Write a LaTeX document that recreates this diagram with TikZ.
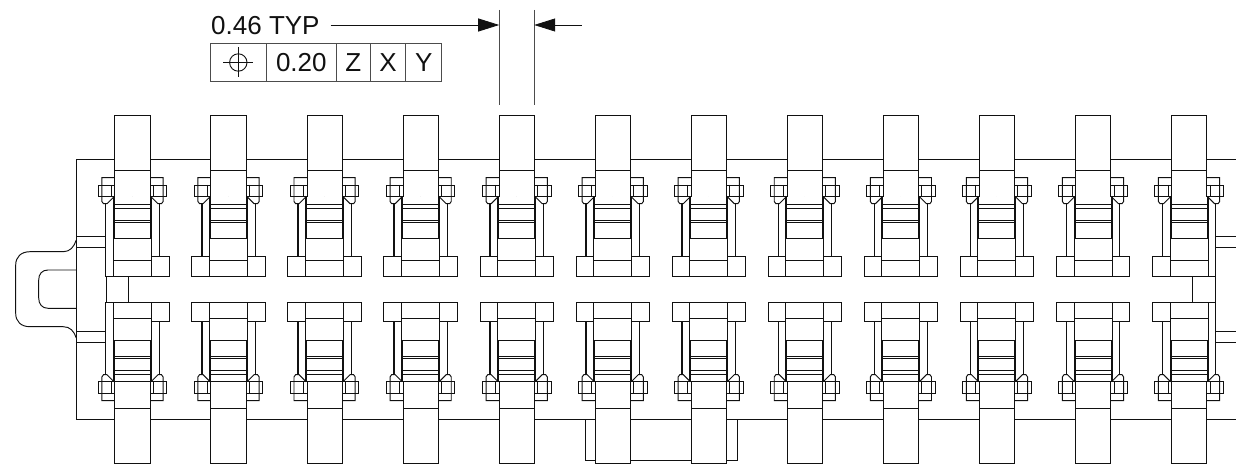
\documentclass[tikz,border=0pt]{standalone}
\usepackage{fontspec}
\setmainfont{Liberation Sans}
\usetikzlibrary{arrows.meta}
\definecolor{ink}{HTML}{111111}
\tikzset{
  part/.style={draw=ink,line width=0.95pt,line join=miter},
  thin part/.style={draw=ink!75,line width=1pt},
  dimtext/.style={font=\fontsize{26}{30}\selectfont,text=ink,inner sep=0pt},
  dimarrow/.style={draw=ink,line width=0.8pt,-{Triangle[length=21pt,width=13pt]}}
}
% one quarter of a contact, x measured from the contact centre, y from the top of the picture
\newcommand\quartercontact[1]{%
  \draw[part] (0,196.7)--(19,196.7)--(19,276)--(0,276);
  \draw[part] (0,260)--(19,260);
  \draw[part] (18,196.7)--(18,238.3)--(0,238.3);
  \draw[part] (0,204.3)--(18,204.3) (0,208.3)--(18,208.3) (0,220)--(18,220) (0,222.3)--(18,222.3);
  \ifnum#1=1
    \draw[part] (26.7,203.7)--(26.7,276)--(19,276);
  \else
    \draw[part,line width=1.3pt] (26.7,203.7)--(26.7,256.7);
    \draw[part] (19,256.7) rectangle (36.7,276);
  \fi
  \draw[part] (18.5,196.7)--(25.5,203.7)--(29,203.7)--(30.6,201.5)--(30.6,177.7)--(17.6,177.7);
  \draw[part] (17.6,185)--(34.3,185)--(34.3,196.7)--(17.6,196.7);
  \draw[part] (21,185)--(21,196.7);
  \fill[white] (0,115.3) rectangle (17.6,196.7);
  \draw[part] (0,115.3)--(17.6,115.3)--(17.6,196.7);
  \draw[part] (0,170)--(17.6,170);
}
\begin{document}
\begin{tikzpicture}[x=1pt,y=-1pt]
\useasboundingbox (0,0) rectangle (1236,465);
\fill[white] (0,0) rectangle (1236,465);
% housing
\draw[part] (1236,159.7)--(76.3,159.7)--(76.3,419)--(1236,419);
% tabs on the ends
\draw[part] (76.3,236.3)--(106,236.3) (76.3,247)--(106,247) (76.3,331.4)--(106,331.4) (76.3,342)--(106,342);
\draw[part] (1215.7,236.3)--(1236,236.3) (1215.7,247)--(1236,247) (1215.7,331.4)--(1236,331.4) (1215.7,342)--(1236,342);
% end loop
\draw[part] (76.3,240) .. controls (74,247) and (70,251.7) .. (63.3,251.7) -- (30,251.7)
  .. controls (21,251.7) and (15.7,257) .. (15.7,265) -- (15.7,313.4)
  .. controls (15.7,321.5) and (21,326.7) .. (30,326.7) -- (63.3,326.7)
  .. controls (70,326.7) and (74,331) .. (76.3,338);
\draw[part] (76.3,270)--(48,270) .. controls (42,270) and (38.7,274) .. (38.7,280) -- (38.7,298)
  .. controls (38.7,304) and (42,308.3) .. (48,308.3) -- (76.3,308.3);
% bottom bracket
\draw[part] (585,419)--(585,460.7)--(737,460.7)--(737,419);
% contacts
\foreach \i in {1,...,12}{
  \pgfmathsetmacro\cx{132.5+(\i-1)*96.05}
  \foreach \s in {-1,1}{
    \pgfmathtruncatemacro\isend{((\i==1)&&(\s==-1))||((\i==12)&&(\s==1))?1:0}
    \begin{scope}[shift={(\cx,0)},xscale=\s]
      \quartercontact{\isend}
    \end{scope}
    \begin{scope}[shift={(\cx,578.4)},xscale=\s,yscale=-1]
      \quartercontact{\isend}
    \end{scope}
  }
}
% end pieces between the two rows
\draw[part] (106,276)--(106,302.4) (128.3,276)--(128.3,302.4);
\draw[part] (1215.7,276)--(1215.7,302.4) (1192.7,276)--(1192.7,302.4);
% dimension
\coordinate (extLtop) at (499.2,10);
\coordinate (extLbot) at (499.2,105);
\coordinate (extRtop) at (534.2,10);
\coordinate (extRbot) at (534.2,105);
\coordinate (tipL) at (499.2,25);
\coordinate (tipR) at (534.2,25);
\coordinate (tailL) at (330.7,25);
\coordinate (tailR) at (581.5,25);
\draw[thin part] (extLtop)--(extLbot);
\draw[thin part] (extRtop)--(extRbot);
\draw[dimarrow] (tailL)--(tipL);
\draw[dimarrow] (tailR)--(tipR);
\node[dimtext,anchor=base west] (typ) at (211,35) {0.46 TYP};
% feature control frame
\draw[thin part] (210.7,43.3) rectangle (441.7,81.7);
\draw[thin part] (266.7,43.3)--(266.7,81.7) (336,43.3)--(336,81.7) (370.3,43.3)--(370.3,81.7) (405.7,43.3)--(405.7,81.7);
\draw[draw=ink,line width=0.9pt] (238.3,62.5) circle (8.7);
\draw[draw=ink,line width=0.9pt] (223.3,62.5)--(253.3,62.5) (238.3,47.5)--(238.3,77.5);
\node[dimtext,anchor=base] (tol) at (301.3,71.7) {0.20};
\node[dimtext,anchor=base] (dz) at (353.2,71.7) {Z};
\node[dimtext,anchor=base] (dx) at (388,71.7) {X};
\node[dimtext,anchor=base] (dy) at (423.7,71.7) {Y};
\end{tikzpicture}
\end{document}
